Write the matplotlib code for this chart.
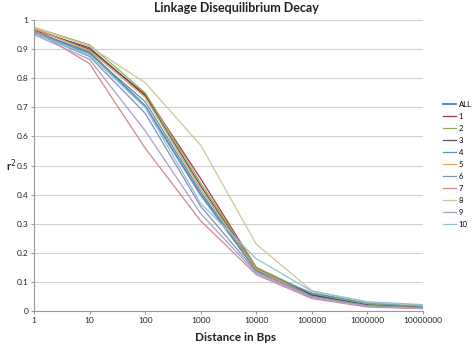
import numpy as np
from matplotlib import pyplot as plt

plt.rcParams['font.family'] = ['Lato', 'DejaVu Sans']

# distance in bps (x) and r^2 per chromosome group
distance = [1, 10, 100, 1000, 10000, 100000, 1000000, 10000000]
labels = ['ALL', '1', '2', '3', '4', '5', '6', '7', '8', '9', '10']

r2_all = [0.960, 0.890, 0.705, 0.400, 0.140, 0.055, 0.022, 0.014]
r2_1 = [0.970, 0.900, 0.745, 0.455, 0.150, 0.055, 0.020, 0.012]
r2_2 = [0.975, 0.915, 0.750, 0.440, 0.150, 0.060, 0.025, 0.016]
r2_3 = [0.965, 0.905, 0.740, 0.430, 0.145, 0.055, 0.020, 0.012]
r2_4 = [0.955, 0.885, 0.720, 0.410, 0.140, 0.062, 0.028, 0.018]
r2_5 = [0.970, 0.895, 0.735, 0.420, 0.145, 0.050, 0.018, 0.011]
r2_6 = [0.955, 0.875, 0.680, 0.360, 0.135, 0.050, 0.018, 0.011]
r2_7 = [0.965, 0.850, 0.560, 0.310, 0.125, 0.043, 0.014, 0.008]
r2_8 = [0.975, 0.910, 0.785, 0.570, 0.230, 0.070, 0.030, 0.020]
r2_9 = [0.950, 0.865, 0.620, 0.335, 0.130, 0.047, 0.016, 0.009]
r2_10 = [0.955, 0.880, 0.700, 0.370, 0.180, 0.068, 0.032, 0.022]

series = [r2_all, r2_1, r2_2, r2_3, r2_4, r2_5, r2_6, r2_7, r2_8, r2_9, r2_10]
colors = ['#5B8DB8', '#A8343A', '#8DB255', '#5A4A6E', '#4A9AB8', '#E8A050',
          '#8090B8', '#D08890', '#C8C898', '#A8A0C8', '#90C0D8']

fig = plt.figure(figsize=(4.72, 3.46), dpi=100)
ax = fig.add_axes([0.072, 0.101, 0.824, 0.841])

for i in range(len(series)):
    lw = 1.4 if i == 0 else 0.9
    ax.plot(distance, series[i], color=colors[i], lw=lw, label=labels[i])

ax.set_xscale('log')
ax.set_xlim(1, 10000000)
ax.set_ylim(0, 1)
ax.set_xticks(distance)
ax.set_xticklabels([str(d) for d in distance])
ax.minorticks_off()
ax.set_yticks(np.arange(0, 1.01, 0.1))
ax.set_yticklabels(['0', '0.1', '0.2', '0.3', '0.4', '0.5', '0.6', '0.7', '0.8', '0.9', '1'])
ax.tick_params(labelsize=6, length=2, color='#999999', pad=2, labelcolor='#222222')
ax.grid(axis='y', color='#D0D0D0', lw=0.8)
ax.set_axisbelow(True)
for s in ['top', 'right']:
    ax.spines[s].set_visible(False)
for s in ['left', 'bottom']:
    ax.spines[s].set_color('#999999')
    ax.spines[s].set_linewidth(0.8)

fig.text(0.5, 0.978, 'Linkage Disequilibrium Decay', ha='center', va='center',
         fontsize=9, fontweight='bold', color='#222222')
fig.text(0.5, 0.026, 'Distance in Bps', ha='center', va='center',
         fontsize=8.5, fontweight='bold', color='#222222')
fig.text(0.012, 0.52, 'r$^2$', ha='left', va='center',
         fontsize=8, fontweight='bold', color='#222222')

ax.legend(loc='center left', bbox_to_anchor=(1.035, 0.504), frameon=False,
          fontsize=5.5, handlelength=1.7, handletextpad=0.3, labelspacing=0.65)

plt.savefig('out.png', dpi=100)
